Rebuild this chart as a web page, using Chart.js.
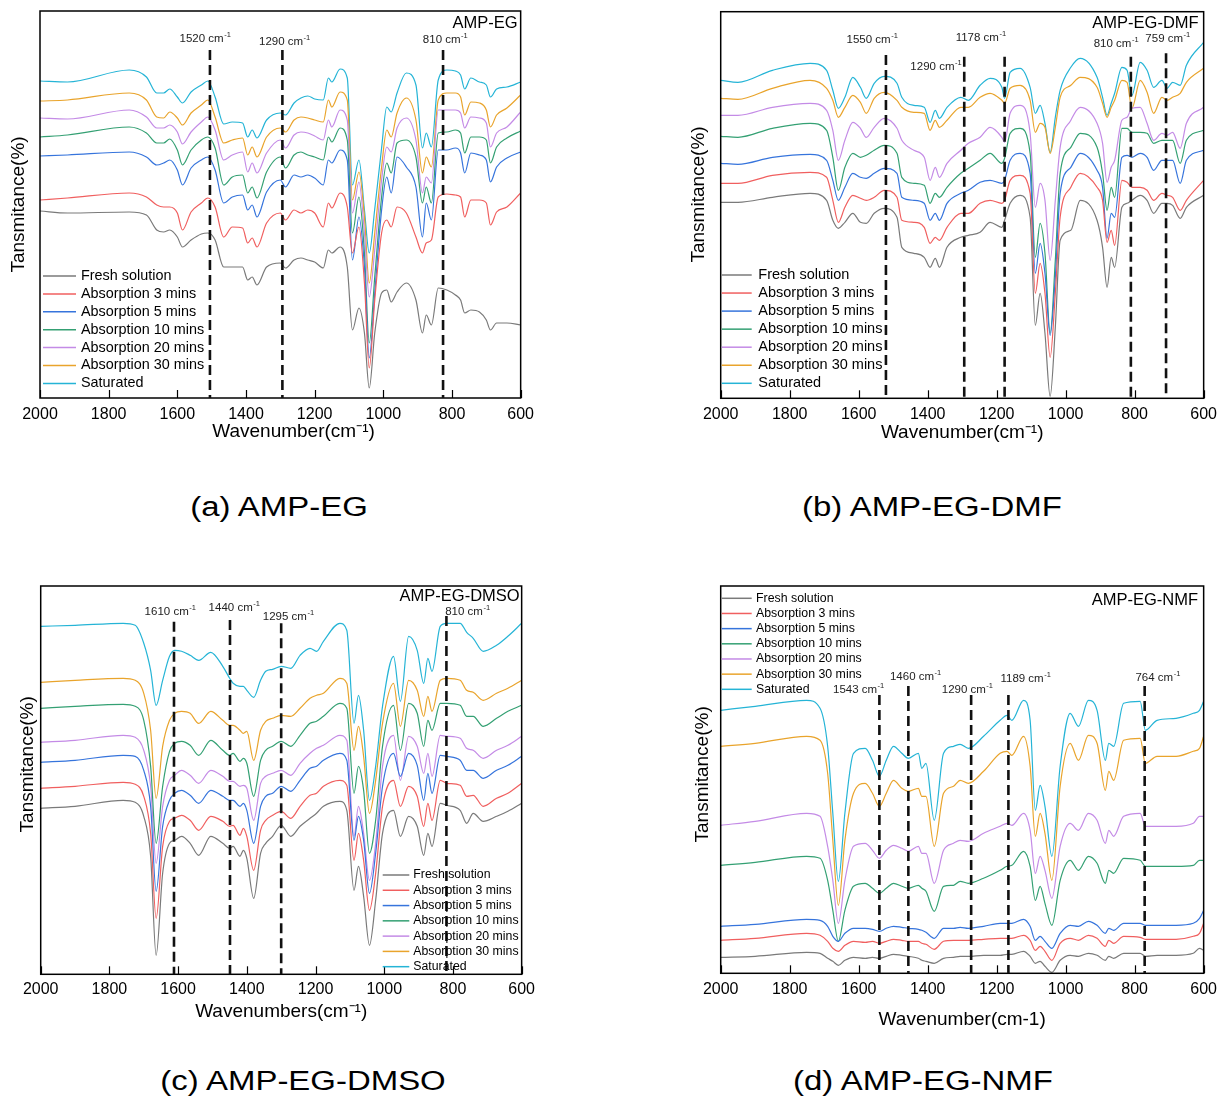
<!DOCTYPE html>
<html>
<head>
<meta charset="utf-8">
<script src="https://cdn.jsdelivr.net/npm/chart.js@4.4.1/dist/chart.umd.min.js"></script>
<style>
  body { margin: 0; background: #fff; width: 1217px; height: 1098px; position: relative; overflow: hidden;
         font-family: 'Liberation Sans', Arial, sans-serif; }
  canvas { position: absolute; }
  .cap { position: absolute; font-size: 27px; color: #000; white-space: nowrap;
         transform: translate(-50%, -50%) scaleX(1.22); }
</style>
</head>
<body>
<canvas id="chartA" width="541" height="450" style="left:0;top:0;width:541px;height:450px"></canvas>
<canvas id="chartB" width="544" height="450" style="left:680px;top:0;width:544px;height:450px"></canvas>
<canvas id="chartC" width="541" height="470" style="left:0;top:560px;width:541px;height:470px"></canvas>
<canvas id="chartD" width="544" height="480" style="left:680px;top:560px;width:544px;height:480px"></canvas>
<div class="cap" style="left:279px;top:507px">(a) AMP-EG</div>
<div class="cap" style="left:932px;top:507px">(b) AMP-EG-DMF</div>
<div class="cap" style="left:303px;top:1081px">(c) AMP-EG-DMSO</div>
<div class="cap" style="left:923px;top:1081px">(d) AMP-EG-NMF</div>
<script>
const FONT = "'Liberation Sans', Arial, sans-serif";

// series (same order in every panel)
const seriesNames = ['Fresh solution', 'Absorption 3 mins', 'Absorption 5 mins', 'Absorption 10 mins',
                     'Absorption 20 mins', 'Absorption 30 mins', 'Saturated'];
const seriesColors = ['#7a7a7a', '#f05f5f', '#3674dc', '#34a073', '#c48be6', '#e9a42c', '#25b4d6'];

// ---- (a) AMP-EG : wavenumbers (cm-1) and offset transmittance (a.u.)
const aWave = [2000, 1920, 1740, 1690, 1660, 1640, 1622, 1600, 1585, 1560, 1530, 1511, 1490, 1465, 1440, 1410, 1395, 1382, 1368, 1340,
               1300, 1285, 1260, 1240, 1220, 1200, 1175, 1160, 1150, 1126, 1105, 1090, 1071, 1055, 1041, 1025, 1005, 990, 977, 960,
               933, 905, 886, 875, 860, 840, 815, 790, 775, 763, 745, 720, 700, 688, 670, 640, 600];
const aFresh = [187, 185, 186, 183, 168, 166, 168, 161, 151, 158, 164, 165, 158, 131, 131, 131, 118, 121, 113, 131,
                135, 130, 138, 140, 138, 136, 130, 148, 145, 151, 131, 68, 90, 65, 10, 65, 105, 108, 96, 106,
                115, 98, 65, 83, 73, 110, 108, 103, 98, 85, 88, 86, 78, 68, 75, 75, 73];
const aMin3 = [198, 200, 205, 201, 193, 191, 191, 185, 168, 186, 195, 200, 191, 161, 171, 170, 155, 160, 151, 175,
               185, 178, 188, 185, 188, 185, 171, 195, 190, 205, 191, 145, 171, 115, 30, 98, 165, 178, 171, 191,
               185, 161, 145, 155, 158, 201, 204, 203, 201, 181, 198, 198, 195, 173, 186, 191, 205];
const aMin5 = [242, 243, 246, 241, 233, 235, 238, 228, 213, 230, 238, 241, 228, 195, 201, 203, 188, 193, 181, 206,
               218, 211, 223, 221, 223, 220, 213, 238, 235, 248, 238, 138, 181, 131, 40, 105, 188, 221, 205, 241,
               231, 211, 161, 195, 178, 248, 248, 250, 245, 225, 245, 243, 238, 216, 231, 240, 246];
const aMin10 = [261, 263, 271, 265, 255, 255, 259, 248, 233, 248, 258, 261, 250, 213, 221, 223, 205, 211, 200, 226,
                241, 230, 243, 246, 243, 241, 238, 261, 256, 270, 258, 165, 201, 145, 55, 121, 201, 235, 225, 255,
                258, 241, 195, 211, 195, 265, 266, 268, 265, 245, 261, 261, 258, 235, 251, 260, 267];
const aMin20 = [280, 279, 288, 281, 270, 270, 273, 266, 254, 266, 276, 281, 268, 238, 243, 246, 226, 235, 225, 245,
                258, 250, 263, 266, 265, 262, 258, 278, 271, 288, 278, 185, 216, 165, 101, 148, 218, 251, 246, 270,
                280, 258, 205, 221, 215, 288, 288, 288, 285, 270, 281, 280, 275, 251, 265, 271, 286];
const aMin30 = [297, 298, 305, 298, 281, 280, 286, 280, 273, 285, 293, 298, 281, 255, 258, 260, 243, 251, 241, 261,
                270, 266, 278, 281, 280, 278, 276, 298, 291, 306, 298, 198, 226, 181, 115, 165, 231, 268, 261, 285,
                300, 278, 225, 241, 231, 298, 305, 305, 301, 283, 296, 295, 288, 271, 283, 290, 303];
const aSaturated = [317, 316, 328, 321, 305, 305, 309, 301, 295, 306, 313, 317, 301, 274, 276, 275, 261, 268, 260, 278,
                    285, 283, 295, 300, 302, 299, 298, 320, 316, 329, 320, 213, 238, 188, 145, 189, 250, 291, 286, 305,
                    325, 313, 250, 265, 251, 318, 328, 327, 323, 309, 320, 316, 313, 301, 309, 311, 316];
const aMarkWave = [1505, 1294, 826];
const aMarkLabel = ['1520', '1290', '810'];

// ---- (b) AMP-EG-DMF
const bWave = [2000, 1950, 1850, 1741, 1693, 1675, 1659, 1640, 1617, 1595, 1578, 1555, 1526, 1489, 1475, 1440, 1410, 1393, 1378, 1366,
               1344, 1304, 1282, 1248, 1219, 1185, 1177, 1161, 1132, 1103, 1088, 1074, 1060, 1045, 1030, 1016, 985, 958, 909, 893,
               880, 868, 858, 837, 822, 808, 784, 764, 745, 721, 706, 690, 668, 650, 600];
const bFresh = [196, 196, 201, 205, 198, 178, 170, 176, 185, 176, 175, 185, 190, 181, 151, 145, 141, 131, 140, 131,
                151, 161, 163, 166, 176, 171, 178, 195, 203, 181, 73, 105, 65, 2, 71, 158, 168, 198, 178, 151,
                111, 141, 131, 191, 195, 198, 203, 198, 185, 195, 195, 193, 180, 191, 203];
const bMin3 = [215, 215, 223, 226, 221, 198, 176, 191, 203, 200, 198, 201, 208, 201, 178, 176, 171, 155, 161, 158,
               171, 185, 185, 195, 198, 195, 198, 218, 223, 205, 105, 135, 105, 41, 105, 181, 211, 225, 211, 198,
               156, 168, 153, 218, 216, 211, 211, 208, 198, 205, 203, 201, 188, 198, 218];
const bMin5 = [235, 234, 241, 244, 238, 218, 198, 211, 225, 221, 220, 225, 230, 225, 201, 198, 195, 178, 185, 178,
               195, 205, 208, 216, 218, 215, 218, 238, 245, 225, 125, 155, 125, 63, 121, 205, 231, 245, 228, 211,
               160, 185, 181, 241, 243, 241, 245, 241, 228, 238, 238, 238, 215, 238, 248];
const bMin10 = [262, 261, 270, 275, 268, 241, 208, 231, 245, 241, 243, 248, 253, 245, 221, 215, 213, 195, 205, 201,
                211, 225, 230, 238, 245, 235, 240, 265, 270, 245, 141, 175, 145, 65, 138, 225, 251, 265, 251, 225,
                188, 211, 201, 270, 270, 266, 266, 265, 255, 258, 258, 258, 235, 258, 268];
const bMin20 = [283, 283, 291, 295, 288, 268, 238, 258, 276, 270, 261, 271, 280, 270, 258, 248, 241, 218, 231, 221,
                235, 248, 255, 261, 271, 261, 256, 285, 293, 265, 191, 215, 198, 138, 198, 251, 278, 291, 275, 255,
                216, 231, 238, 278, 281, 290, 291, 275, 258, 265, 263, 266, 250, 275, 291];
const bMin30 = [300, 299, 310, 318, 310, 298, 281, 291, 303, 296, 285, 300, 306, 298, 291, 286, 285, 268, 278, 271,
                278, 291, 291, 301, 305, 298, 295, 310, 313, 298, 266, 275, 271, 245, 271, 301, 313, 321, 311, 295,
                281, 291, 298, 318, 316, 290, 318, 306, 285, 301, 298, 301, 305, 316, 330];
const bSaturated = [318, 316, 328, 335, 328, 308, 290, 301, 321, 311, 300, 315, 322, 315, 301, 293, 291, 276, 288, 280,
                    291, 301, 298, 313, 320, 311, 300, 326, 330, 311, 285, 293, 275, 246, 281, 308, 331, 340, 321, 301,
                    283, 295, 305, 331, 328, 303, 336, 328, 311, 318, 310, 316, 313, 333, 356];
const bMarkWave = [1521, 1294, 1177, 811, 709];
const bMarkLabel = ['1550', '1290', '1178', '810', '759'];

// ---- (c) AMP-EG-DMSO
const cWave = [2000, 1900, 1760, 1725, 1700, 1680, 1664, 1645, 1625, 1610, 1590, 1565, 1540, 1505, 1470, 1450, 1440, 1420, 1410, 1400,
               1380, 1360, 1345, 1325, 1300, 1272, 1245, 1216, 1197, 1177, 1129, 1109, 1088, 1075, 1060, 1043, 1025, 1005, 973, 953,
               929, 904, 885, 873, 861, 837, 818, 779, 760, 741, 712, 673, 640, 600];
const cFresh = [166, 168, 174, 172, 158, 118, 19, 101, 131, 134, 138, 131, 119, 138, 131, 126, 128, 118, 124, 116,
                76, 121, 131, 138, 149, 138, 148, 156, 161, 168, 173, 164, 84, 108, 78, 29, 74, 141, 164, 138,
                158, 148, 119, 141, 128, 171, 169, 164, 151, 161, 153, 158, 163, 171];
const cMin3 = [186, 188, 192, 190, 178, 141, 56, 128, 153, 156, 159, 154, 144, 158, 153, 148, 149, 139, 146, 138,
               104, 144, 154, 159, 163, 156, 168, 179, 181, 188, 194, 189, 114, 141, 114, 64, 101, 168, 194, 168,
               188, 178, 148, 171, 154, 194, 191, 189, 178, 179, 168, 176, 181, 191];
const cMin5 = [212, 214, 219, 218, 204, 168, 83, 148, 174, 181, 184, 179, 171, 184, 178, 174, 174, 168, 171, 164,
               131, 168, 178, 181, 188, 183, 194, 206, 208, 214, 221, 214, 134, 158, 134, 81, 121, 188, 221, 198,
               221, 209, 174, 201, 181, 219, 218, 214, 204, 204, 196, 204, 209, 218];
const cMin10 = [266, 268, 270, 268, 254, 208, 131, 188, 223, 231, 233, 229, 219, 234, 224, 219, 221, 213, 216, 211,
                178, 214, 224, 228, 233, 228, 239, 251, 253, 258, 271, 266, 181, 208, 184, 121, 154, 228, 269, 224,
                271, 261, 228, 254, 244, 271, 271, 269, 258, 258, 248, 256, 263, 269];
const cMin20 = [232, 234, 239, 237, 224, 188, 111, 168, 194, 199, 204, 199, 191, 204, 198, 193, 193, 188, 189, 186,
                154, 191, 198, 201, 204, 199, 211, 221, 226, 229, 239, 234, 138, 168, 141, 94, 131, 208, 239, 194,
                238, 228, 201, 221, 198, 239, 238, 236, 226, 224, 216, 224, 229, 238];
const cMin30 = [292, 294, 296, 294, 281, 244, 176, 228, 254, 261, 263, 261, 251, 263, 254, 249, 249, 244, 241, 243,
                214, 244, 253, 256, 259, 258, 266, 276, 279, 281, 296, 291, 224, 248, 218, 161, 194, 251, 291, 248,
                294, 284, 258, 278, 263, 294, 296, 294, 284, 282, 274, 281, 286, 294];
const cSaturated = [348, 349, 351, 349, 331, 304, 269, 294, 318, 324, 323, 319, 314, 322, 308, 296, 291, 288, 288, 284,
                    277, 294, 303, 305, 308, 306, 319, 326, 323, 333, 351, 344, 251, 279, 244, 174, 208, 268, 318, 273,
                    338, 324, 291, 316, 303, 348, 351, 351, 342, 336, 323, 329, 338, 351];
const cMarkWave = [1612, 1449, 1300, 819];
const cMarkLabel = ['1610', '1440', '1295', '810'];

// ---- (d) AMP-EG-NMF
const dWave = [2000, 1900, 1751, 1712, 1690, 1675, 1659, 1640, 1615, 1581, 1560, 1540, 1520, 1499, 1475, 1456, 1427, 1417, 1405, 1381,
               1354, 1325, 1306, 1282, 1238, 1190, 1170, 1156, 1122, 1103, 1088, 1074, 1060, 1040, 1016, 987, 963, 934, 909, 885,
               875, 861, 832, 784, 769, 735, 680, 630, 612, 600];
const dFresh = [16, 17, 21, 20, 15, 12, 8, 13, 16, 15, 16, 15, 17, 19, 18, 17, 15, 13, 12, 10,
                15, 16, 17, 17, 18, 18, 19, 19, 22, 17, 10, 12, 7, 1, 13, 18, 17, 20, 18, 13,
                17, 15, 20, 20, 17, 18, 18, 20, 25, 23];
const dMin3 = [33, 35, 40, 38, 32, 25, 22, 28, 32, 31, 32, 30, 32, 34, 33, 32, 32, 30, 29, 24,
               32, 33, 33, 33, 34, 35, 35, 35, 38, 33, 23, 27, 22, 13, 30, 35, 33, 38, 35, 27,
               33, 30, 37, 36, 34, 34, 34, 37, 40, 50];
const dMin5 = [47, 49, 54, 53, 47, 37, 32, 40, 45, 45, 44, 42, 45, 47, 46, 45, 44, 43, 41, 35,
               45, 45, 46, 45, 47, 50, 50, 50, 54, 47, 33, 37, 32, 25, 40, 48, 47, 52, 48, 40,
               45, 43, 50, 50, 48, 48, 48, 50, 55, 63];
const dMin10 = [108, 111, 117, 115, 93, 63, 32, 63, 87, 90, 85, 80, 85, 90, 87, 85, 88, 85, 82, 62,
                87, 88, 92, 90, 95, 103, 107, 108, 122, 107, 73, 87, 70, 48, 93, 113, 103, 117, 110, 90,
                103, 100, 115, 113, 107, 107, 107, 108, 113, 113];
const dMin20 = [148, 152, 160, 157, 127, 93, 50, 93, 127, 130, 123, 115, 123, 128, 125, 122, 127, 120, 120, 90,
                123, 130, 133, 132, 140, 147, 150, 148, 160, 143, 100, 117, 103, 75, 127, 150, 143, 160, 153, 130,
                143, 137, 157, 160, 147, 147, 147, 150, 157, 157];
const dMin30 = [227, 230, 237, 233, 200, 133, 68, 133, 180, 190, 180, 167, 180, 193, 185, 182, 185, 177, 177, 127,
                180, 187, 193, 190, 202, 220, 222, 218, 237, 207, 137, 160, 140, 93, 187, 230, 213, 238, 230, 183,
                202, 193, 233, 235, 210, 217, 217, 222, 225, 237];
const dSaturated = [263, 267, 273, 265, 227, 160, 92, 160, 220, 225, 213, 197, 213, 227, 220, 215, 220, 205, 210, 153,
                    220, 227, 229, 225, 237, 253, 258, 253, 273, 253, 163, 188, 167, 117, 207, 260, 247, 273, 263, 213,
                    230, 227, 270, 272, 243, 253, 255, 260, 263, 272];
const dMarkWave = [1540, 1456, 1274, 1166, 771];
const dMarkLabel = ['1543', '1460', '1290', '1189', '764'];

// frame, inner ticks, dashed band markers, panel title and legend
const spectraDecor = {
  id: 'spectraDecor',
  afterDraw(chart, args, o) {
    const {ctx, chartArea: a} = chart;
    const x = chart.scales.x;
    ctx.save();
    ctx.strokeStyle = '#000';
    ctx.lineWidth = 1.2;
    x.ticks.forEach(t => {
      const px = Math.round(x.getPixelForValue(t.value)) + 0.5;
      ctx.beginPath(); ctx.moveTo(px, a.bottom); ctx.lineTo(px, a.bottom - 8); ctx.stroke();
    });
    ctx.lineWidth = 1.5;
    ctx.strokeRect(a.left, a.top, a.right - a.left, a.bottom - a.top);

    // dashed lines
    ctx.setLineDash([10, 5]);
    ctx.lineWidth = 2.6;
    ctx.strokeStyle = '#111';
    o.waves.forEach((w, i) => {
      const px = x.getPixelForValue(w);
      ctx.beginPath(); ctx.moveTo(px, a.top + o.lineTop[i]); ctx.lineTo(px, a.bottom); ctx.stroke();
    });
    ctx.setLineDash([]);

    // labels "xxxx cm-1" with superscript
    ctx.fillStyle = '#222';
    ctx.textBaseline = 'middle';
    ctx.textAlign = 'left';
    o.labels.forEach((txt, i) => {
      const cx = x.getPixelForValue(o.waves[i]) + o.labelDx[i];
      const cy = a.top + o.labelDy[i];
      const base = txt + ' cm';
      ctx.font = `11.5px ${FONT}`;
      const wb = ctx.measureText(base).width;
      ctx.font = `7.5px ${FONT}`;
      const ws = ctx.measureText('-1').width;
      const x0 = cx - (wb + ws) / 2;
      ctx.font = `11.5px ${FONT}`;
      ctx.fillText(base, x0, cy);
      ctx.font = `7.5px ${FONT}`;
      ctx.fillText('-1', x0 + wb + 0.5, cy - 4);
    });

    // panel title
    ctx.fillStyle = '#000';
    ctx.textAlign = 'right';
    ctx.font = `16.5px ${FONT}`;
    ctx.fillText(o.title, a.right + o.titleDx, a.top + o.titleDy);

    // legend
    const lg = o.legend;
    ctx.textAlign = 'left';
    ctx.font = `${lg.size}px ${FONT}`;
    chart.data.datasets.forEach((ds, i) => {
      const y = a.top + lg.top + i * lg.gap;
      ctx.strokeStyle = ds.borderColor;
      ctx.lineWidth = 1.5;
      ctx.beginPath(); ctx.moveTo(a.left + lg.lineX, y); ctx.lineTo(a.left + lg.lineX + lg.lineLen, y); ctx.stroke();
      ctx.fillStyle = '#000';
      ctx.fillText(ds.label, a.left + lg.textX, y);
    });
    ctx.restore();
  }
};

function makePanel(id, waves, series, p) {
  new Chart(document.getElementById(id), {
    type: 'line',
    data: {
      datasets: series.map((vals, i) => ({
        label: seriesNames[i],
        data: waves.map((w, k) => ({x: w, y: vals[k]})),
        borderColor: seriesColors[i],
        borderWidth: 1.2,
        pointRadius: 0,
        cubicInterpolationMode: 'monotone',
        fill: false
      }))
    },
    plugins: [spectraDecor],
    options: {
      responsive: false,
      animation: false,
      layout: {padding: p.pad},
      plugins: {
        legend: {display: false},
        tooltip: {enabled: false},
        spectraDecor: p.decor
      },
      scales: {
        x: {
          type: 'linear', reverse: true, min: 600, max: 2000,
          afterFit: s => { s.height = p.xHeight; },
          grid: {display: false, drawTicks: false},
          border: {display: false},
          ticks: {stepSize: 200, padding: p.tickPad, maxRotation: 0, color: '#000',
                  font: {size: 16, family: FONT}, callback: v => String(v)},
          title: {display: true, text: p.xTitle, color: '#000', font: {size: 19, family: FONT},
                  padding: {top: 0, bottom: p.xTitlePad}}
        },
        y: {
          min: 0, max: p.yMax,
          afterFit: s => { s.width = p.yWidth; },
          grid: {display: false, drawTicks: false},
          border: {display: false},
          ticks: {display: false},
          title: {display: true, text: p.yTitle, color: '#000', font: {size: 19, family: FONT},
                  padding: {top: p.yTitlePad, bottom: 0}}
        }
      }
    }
  });
}

// right padding comes from the last tick label ("600") plus tick padding
makePanel('chartA', aWave, [aFresh, aMin3, aMin5, aMin10, aMin20, aMin30, aSaturated], {
  pad: {left: 0, top: 11, right: 0, bottom: 0}, xHeight: 52, yWidth: 40, yMax: 387,
  tickPad: 7, xTitle: '     Wavenumber(cm\u207B\u00B9)', xTitlePad: 7,
  yTitle: 'Tansmitance(%)', yTitlePad: 7,
  decor: {waves: aMarkWave, labels: aMarkLabel, labelDx: [-5, 2, 2], labelDy: [28, 30.5, 29], lineTop: [39, 39, 39],
          title: 'AMP-EG', titleDx: -3, titleDy: 12.3,
          legend: {top: 265, gap: 17.9, lineX: 3, lineLen: 33, textX: 41, size: 14.4}}
});

makePanel('chartB', bWave, [bFresh, bMin3, bMin5, bMin10, bMin20, bMin30, bSaturated], {
  pad: {left: 0, top: 11.7, right: 0, bottom: 0}, xHeight: 51.7, yWidth: 40.7, yMax: 386.6,
  tickPad: 7, xTitle: 'Wavenumber(cm\u207B\u00B9)', xTitlePad: 5.5,
  yTitle: '    Tansmitance(%)', yTitlePad: 7.6,
  decor: {waves: bMarkWave, labels: bMarkLabel, labelDx: [-14, -28.5, -24, -15, 1.5], labelDy: [28.3, 55, 26, 32.6, 27.6],
          lineTop: [43.3, 45, 45, 45, 41.6],
          title: 'AMP-EG-DMF', titleDx: -5, titleDy: 11.6,
          legend: {top: 263.3, gap: 18.05, lineX: 1, lineLen: 30, textX: 37.6, size: 14.5}}
});

makePanel('chartC', cWave, [cFresh, cMin3, cMin5, cMin10, cMin20, cMin30, cSaturated], {
  pad: {left: 0, top: 26, right: 0, bottom: 0}, xHeight: 55.7, yWidth: 40.7, yMax: 388.3,
  tickPad: 6, xTitle: 'Wavenumbers(cm\u207B\u00B9)', xTitlePad: 7,
  yTitle: '      Tansmitance(%)', yTitlePad: 16,
  decor: {waves: cMarkWave, labels: cMarkLabel, labelDx: [-4, 4, 7, 21], labelDy: [25.7, 22.3, 30.7, 25.7],
          lineTop: [35.7, 34, 37.3, 30],
          title: 'AMP-EG-DMSO', titleDx: -2, titleDy: 10.7,
          legend: {top: 289, gap: 15.28, lineX: 342, lineLen: 26.6, textX: 372.6, size: 12.3}}
});

makePanel('chartD', dWave, [dFresh, dMin3, dMin5, dMin10, dMin20, dMin30, dSaturated], {
  pad: {left: 0, top: 26, right: 0, bottom: 0}, xHeight: 66.7, yWidth: 40.7, yMax: 387.3,
  tickPad: 7, xTitle: 'Wavenumber(cm-1)', xTitlePad: 9,
  yTitle: '  Tansmitance(%)', yTitlePad: 11.6,
  decor: {waves: dMarkWave, labels: dMarkLabel, labelDx: [-21, 7, -4, 17, 13], labelDy: [104, 91.3, 104, 93.3, 92.3],
          lineTop: [109, 100, 109, 109, 100],
          title: 'AMP-EG-NMF', titleDx: -5.6, titleDy: 14,
          legend: {top: 12.3, gap: 15.17, lineX: 1, lineLen: 30, textX: 35.3, size: 12.35}}
});
</script>
</body>
</html>
